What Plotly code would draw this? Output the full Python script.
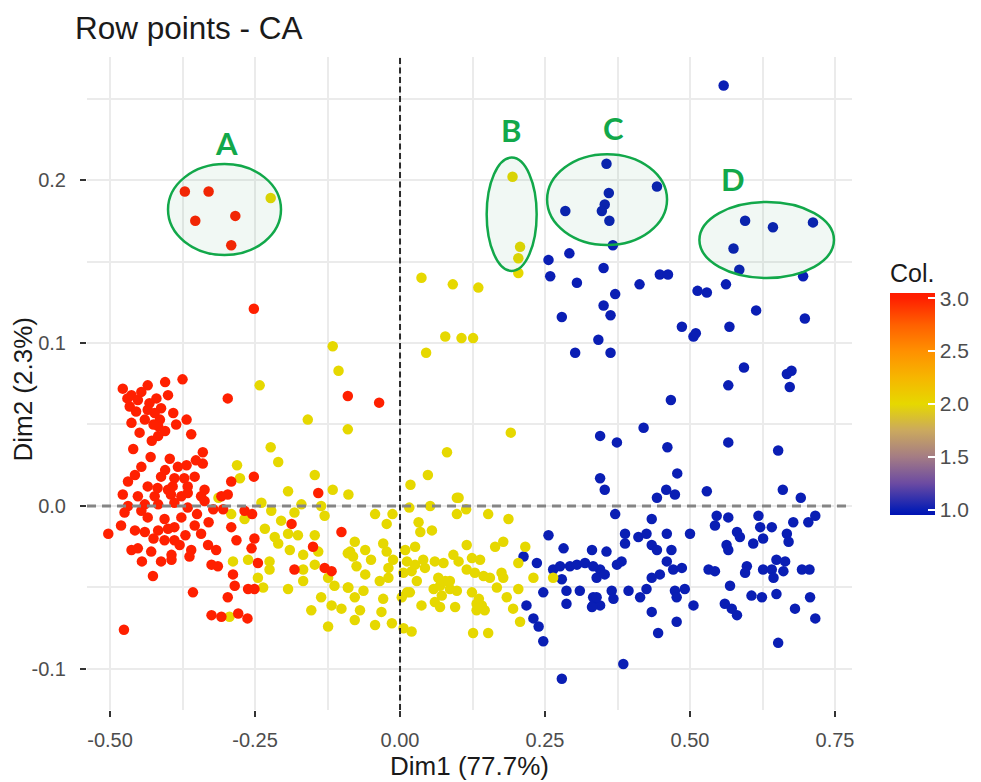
import plotly.graph_objects as go

# ---------------- data (Dim1, Dim2) ----------------
red_points = [
    (-0.371, 0.193), (-0.330, 0.193), (-0.353, 0.175), (-0.284, 0.178), (-0.291, 0.160),
    (-0.252, 0.121), (-0.090, 0.0675), (-0.375, 0.0777), (-0.297, 0.066), (-0.036, 0.0634),
    (-0.478, 0.072), (-0.463, 0.068), (-0.435, 0.074), (-0.405, 0.076), (-0.400, 0.068),
    (-0.452, 0.065), (-0.466, 0.061), (-0.432, 0.063), (-0.412, 0.060), (-0.423, 0.057),
    (-0.391, 0.057), (-0.414, 0.053), (-0.463, 0.051), (-0.417, 0.049), (-0.386, 0.050),
    (-0.368, 0.053), (-0.449, 0.045), (-0.417, 0.043), (-0.360, 0.044), (-0.435, 0.059),
    (-0.340, 0.033), (-0.397, 0.029), (-0.340, 0.026), (-0.252, 0.018), (-0.291, 0.015),
    (-0.141, 0.008), (-0.446, 0.024), (-0.457, 0.019), (-0.469, 0.015), (-0.412, 0.018),
    (-0.383, 0.024), (-0.368, 0.025), (-0.389, 0.017), (-0.354, 0.018), (-0.366, 0.012),
    (-0.435, 0.012), (-0.400, 0.010), (-0.337, 0.010), (-0.478, 0.007), (-0.423, 0.006),
    (-0.308, 0.006), (-0.377, 0.006), (-0.452, 0.006), (-0.395, 0.007), (-0.366, 0.008),
    (-0.343, 0.006), (-0.297, 0.007), (-0.469, 0.000), (-0.446, -0.003), (-0.417, 0.001),
    (-0.389, 0.002), (-0.366, -0.001), (-0.337, 0.003), (-0.435, -0.007), (-0.406, -0.008),
    (-0.377, -0.007), (-0.481, -0.012), (-0.503, -0.017), (-0.457, -0.015), (-0.417, -0.015),
    (-0.389, -0.013), (-0.354, -0.012), (-0.343, -0.017), (-0.406, -0.021), (-0.389, -0.021),
    (-0.463, -0.027), (-0.452, -0.026), (-0.429, -0.028), (-0.394, -0.030), (-0.360, -0.027),
    (-0.331, -0.024), (-0.317, -0.027), (-0.394, -0.033), (-0.363, -0.031), (-0.325, -0.036),
    (-0.314, -0.037), (-0.426, -0.043), (-0.268, -0.003), (-0.255, -0.005), (-0.291, -0.013),
    (-0.282, -0.021), (-0.251, -0.020), (-0.256, -0.026), (-0.245, -0.035), (-0.288, -0.042),
    (-0.285, -0.049), (-0.262, -0.051), (-0.251, -0.051), (-0.357, -0.053), (-0.297, -0.056),
    (-0.325, -0.067), (-0.308, -0.068), (-0.279, -0.066), (-0.263, -0.069), (-0.476, -0.076),
    (-0.187, -0.011), (-0.150, -0.025), (-0.182, -0.039), (-0.130, -0.038), (-0.118, -0.040),
    (-0.101, -0.016),
    (-0.420, 0.066), (-0.425, 0.050), (-0.440, 0.053), (-0.455, 0.058), (-0.470, 0.066),
    (-0.446, 0.070), (-0.428, 0.040), (-0.405, 0.046), (-0.405, 0.022), (-0.392, 0.012),
    (-0.372, 0.017), (-0.418, 0.011), (-0.440, 0.001), (-0.475, -0.004), (-0.440, -0.016),
    (-0.425, -0.020), (-0.400, -0.014), (-0.370, -0.018), (-0.350, -0.005), (-0.330, -0.010),
    (-0.322, -0.002), (-0.305, -0.002), (-0.352, 0.028), (-0.430, 0.030), (-0.460, 0.035),
    (-0.380, -0.024), (-0.445, -0.034), (-0.412, -0.034),
]

yellow_points = [
    (-0.223, 0.189), (0.194, 0.202), (0.207, 0.159), (0.204, 0.152), (0.204, 0.143),
    (0.037, 0.140), (0.091, 0.136), (0.135, 0.134), (0.078, 0.104), (0.106, 0.103),
    (0.126, 0.103), (0.045, 0.094), (-0.116, 0.098), (-0.106, 0.083), (-0.242, 0.074),
    (-0.159, 0.053), (-0.090, 0.047), (0.191, 0.045), (0.081, 0.033), (0.048, 0.019),
    (0.018, 0.013), (0.101, 0.005), (-0.281, 0.025), (-0.276, 0.017), (-0.223, 0.036),
    (-0.210, 0.027), (-0.147, 0.019), (-0.193, 0.009), (-0.116, 0.010), (-0.313, 0.005),
    (-0.291, -0.005), (-0.268, -0.008), (-0.239, 0.002), (-0.222, -0.003), (-0.205, -0.009),
    (-0.233, -0.014), (-0.216, -0.019), (-0.193, -0.017), (-0.176, -0.018), (-0.210, -0.023),
    (-0.190, -0.027), (-0.167, -0.030), (-0.147, -0.018), (-0.141, -0.028), (-0.167, -0.039),
    (-0.167, -0.046), (-0.193, -0.051), (-0.147, -0.036), (-0.124, -0.044), (-0.113, -0.049),
    (-0.136, -0.056), (-0.118, -0.061), (-0.101, -0.063), (-0.153, -0.064), (-0.124, -0.074),
    (-0.090, -0.029), (-0.090, -0.050), (-0.170, 0.001), (-0.136, 0.000), (-0.130, -0.006),
    (-0.182, -0.004), (-0.288, -0.034), (-0.262, -0.033), (-0.225, -0.034), (-0.225, -0.039),
    (-0.245, -0.044), (-0.236, -0.050), (-0.294, -0.068), (-0.089, 0.007), (-0.043, -0.005),
    (-0.013, -0.005), (0.016, -0.001), (0.052, 0.000), (0.098, 0.005), (0.098, -0.005),
    (0.114, -0.002), (0.152, -0.005), (0.187, -0.008), (-0.023, -0.011), (0.032, -0.010),
    (0.035, -0.016), (0.055, -0.015), (-0.078, -0.022), (-0.060, -0.027), (-0.029, -0.023),
    (-0.023, -0.028), (-0.086, -0.028), (0.009, -0.027), (0.026, -0.025), (0.115, -0.024),
    (0.164, -0.025), (0.178, -0.022), (0.216, -0.025), (-0.081, -0.031), (0.012, -0.034),
    (0.026, -0.036), (0.043, -0.038), (0.060, -0.034), (0.075, -0.035), (0.101, -0.034),
    (0.124, -0.032), (0.138, -0.033), (0.204, -0.035), (-0.020, -0.038), (-0.075, -0.037),
    (-0.060, -0.042), (-0.035, -0.046), (-0.020, -0.044), (0.006, -0.041), (0.029, -0.046),
    (0.078, -0.046), (0.115, -0.039), (0.129, -0.041), (0.144, -0.043), (0.155, -0.044),
    (0.175, -0.041), (0.178, -0.044), (0.230, -0.044), (-0.089, -0.050), (-0.063, -0.052),
    (0.012, -0.053), (0.058, -0.051), (0.069, -0.049), (0.086, -0.051), (0.098, -0.052),
    (0.124, -0.053), (0.167, -0.050), (0.204, -0.051), (-0.078, -0.056), (-0.029, -0.057),
    (0.003, -0.056), (0.017, -0.053), (0.037, -0.061), (0.060, -0.059), (0.069, -0.062),
    (0.095, -0.062), (0.132, -0.060), (0.141, -0.061), (0.132, -0.064), (0.184, -0.056),
    (0.195, -0.063), (-0.069, -0.064), (-0.032, -0.065), (-0.078, -0.070), (-0.043, -0.073),
    (-0.014, -0.072), (0.006, -0.075), (0.020, -0.077), (0.126, -0.078), (0.152, -0.078),
    (0.207, -0.071), (0.264, -0.044),
    (0.066, -0.044), (0.086, -0.046), (0.072, -0.055), (0.136, -0.057), (0.146, -0.064),
    (0.040, -0.033), (0.020, -0.040), (-0.012, -0.033), (-0.050, -0.033), (0.092, -0.030),
]

blue_points = [
    (0.356, 0.210), (0.360, 0.192), (0.353, 0.185), (0.348, 0.181), (0.361, 0.175),
    (0.443, 0.196), (0.285, 0.181), (0.595, 0.175), (0.643, 0.171), (0.712, 0.174),
    (0.575, 0.158), (0.585, 0.145), (0.695, 0.141), (0.558, 0.258), (0.292, 0.155),
    (0.256, 0.151), (0.259, 0.141), (0.367, 0.160), (0.351, 0.146), (0.448, 0.142),
    (0.462, 0.142), (0.305, 0.137), (0.279, 0.116), (0.302, 0.094), (0.342, 0.102),
    (0.413, 0.136), (0.371, 0.130), (0.351, 0.123), (0.363, 0.117), (0.363, 0.094),
    (0.513, 0.132), (0.529, 0.131), (0.562, 0.136), (0.614, 0.120), (0.698, 0.115),
    (0.486, 0.110), (0.506, 0.104), (0.510, 0.106), (0.568, 0.110), (0.593, 0.085),
    (0.667, 0.081), (0.675, 0.083), (0.672, 0.073), (0.566, 0.074), (0.467, 0.065),
    (0.420, 0.048), (0.345, 0.043), (0.374, 0.039), (0.461, 0.036), (0.566, 0.039),
    (0.652, 0.034), (0.345, 0.017), (0.353, 0.010), (0.478, 0.020), (0.459, 0.010),
    (0.474, 0.007), (0.529, 0.009), (0.443, 0.005), (0.660, 0.010), (0.691, 0.005),
    (0.371, -0.005), (0.434, -0.008), (0.546, -0.006), (0.566, -0.007), (0.618, -0.006),
    (0.678, -0.010), (0.704, -0.010), (0.716, -0.006), (0.543, -0.012), (0.581, -0.016),
    (0.586, -0.019), (0.621, -0.013), (0.641, -0.013), (0.626, -0.020), (0.667, -0.017),
    (0.670, -0.022), (0.388, -0.017), (0.388, -0.023), (0.411, -0.019), (0.425, -0.017),
    (0.434, -0.024), (0.443, -0.027), (0.460, -0.017), (0.468, -0.027), (0.500, -0.017),
    (0.563, -0.024), (0.566, -0.027), (0.609, -0.023), (0.356, -0.028), (0.345, -0.039),
    (0.339, -0.044), (0.353, -0.042), (0.374, -0.036), (0.382, -0.034), (0.460, -0.034),
    (0.471, -0.039), (0.486, -0.038), (0.448, -0.042), (0.434, -0.044), (0.532, -0.039),
    (0.543, -0.040), (0.598, -0.037), (0.595, -0.041), (0.626, -0.039), (0.641, -0.039),
    (0.649, -0.033), (0.664, -0.034), (0.661, -0.040), (0.644, -0.044), (0.693, -0.039),
    (0.706, -0.039), (0.365, -0.052), (0.368, -0.057), (0.394, -0.052), (0.414, -0.056),
    (0.425, -0.051), (0.474, -0.052), (0.477, -0.056), (0.491, -0.051), (0.506, -0.061),
    (0.569, -0.049), (0.560, -0.060), (0.572, -0.063), (0.581, -0.067), (0.606, -0.055),
    (0.624, -0.056), (0.649, -0.054), (0.681, -0.063), (0.707, -0.056), (0.716, -0.069),
    (0.434, -0.065), (0.477, -0.071), (0.445, -0.078), (0.652, -0.084), (0.385, -0.097),
    (0.333, -0.061), (0.345, -0.061), (0.333, -0.056), (0.256, -0.018), (0.213, -0.031),
    (0.236, -0.035), (0.282, -0.026), (0.264, -0.039), (0.276, -0.037), (0.293, -0.037),
    (0.305, -0.036), (0.319, -0.035), (0.333, -0.037), (0.331, -0.027), (0.279, -0.045),
    (0.247, -0.053), (0.287, -0.052), (0.310, -0.052), (0.287, -0.060), (0.218, -0.061),
    (0.230, -0.069), (0.239, -0.074), (0.247, -0.083), (0.279, -0.106), (0.331, -0.062),
    (0.339, -0.056),
]

group_points = [blue_points, yellow_points, red_points]
group_col = [1.0, 2.0, 3.0]

# highlighted groups: label, center x, center y, half-width, half-height, label x, label y
group_labels = ["A", "B", "C", "D"]
ellipse_cx = [-0.3026, 0.1925, 0.357, 0.6322]
ellipse_cy = [0.1819, 0.179, 0.188, 0.1632]
ellipse_rx = [0.0974, 0.0431, 0.1034, 0.116]
ellipse_ry = [0.0279, 0.0348, 0.0279, 0.0233]
label_x = [-0.2995, 0.1915, 0.3675, 0.5745]
label_y = [0.2225, 0.2305, 0.2322, 0.2005]

x_ticks = [-0.50, -0.25, 0.00, 0.25, 0.50, 0.75]
y_ticks = [-0.1, 0.0, 0.1, 0.2]
cbar_ticks = [1.0, 1.5, 2.0, 2.5, 3.0]
cbar_min, cbar_max = 0.95, 3.05

# ---------------- build ----------------
xs, ys, cs = [], [], []
for pts, c in zip(group_points, group_col):
    for x, y in pts:
        xs.append(x)
        ys.append(y)
        cs.append(c)

scale_vals = [0.95, 1.0, 1.25, 1.5, 1.75, 2.0, 2.25, 2.5, 2.75, 3.0, 3.05]
scale_cols = ["#0012B4", "#0A1EB4", "#6C4BA2", "#A47C84", "#CBA95E", "#E6D800",
              "#F6B600", "#FF9000", "#FF6000", "#FF2000", "#FF1C00"]
colorscale = [[(v - cbar_min) / (cbar_max - cbar_min), c] for v, c in zip(scale_vals, scale_cols)]

W, H = 981, 782
ml, mr, mt, mb = 87, 129, 57, 72
pw, ph = W - ml - mr, H - mt - mb

bar_left_px, bar_thick, bar_top_px, bar_len = 890, 45, 296, 219
cbar_title_px = 36   # room taken by the colour-bar title inside "len"

fig = go.Figure()
fig.add_trace(go.Scatter(
    x=xs, y=ys, mode="markers",
    marker=dict(size=10.5, color=cs, cmin=cbar_min, cmax=cbar_max, colorscale=colorscale,
                line=dict(width=0),
                colorbar=dict(
                    title=dict(text="Col.", side="top", font=dict(size=25, color="#1a1a1a")),
                    x=(bar_left_px - ml) / pw, xanchor="left", xpad=0,
                    y=(H - mb - (bar_top_px + bar_len)) / ph, yanchor="bottom", ypad=0,
                    len=bar_len + cbar_title_px, lenmode="pixels",
                    thickness=bar_thick, outlinewidth=0,
                    tickvals=cbar_ticks, ticktext=[f"{v:.1f}" for v in cbar_ticks],
                    ticks="inside", ticklen=7, tickwidth=2, tickcolor="white",
                    tickfont=dict(size=21, color="#4D4D4D"),
                )),
    hoverinfo="x+y", showlegend=False,
))

shapes = []
# dashed reference lines
shapes.append(dict(type="line", xref="x", yref="paper", x0=0, x1=0, y0=0, y1=1,
                   line=dict(color="#2b2b2b", width=2, dash="6px,3.5px"), layer="above"))
shapes.append(dict(type="line", xref="paper", yref="y", x0=0, x1=1, y0=0, y1=0,
                   line=dict(color="#858585", width=3, dash="9px,6px"), layer="above"))
# highlight ellipses
for cx, cy, rx, ry in zip(ellipse_cx, ellipse_cy, ellipse_rx, ellipse_ry):
    shapes.append(dict(type="circle", xref="x", yref="y", x0=cx - rx, x1=cx + rx,
                       y0=cy - ry, y1=cy + ry, line=dict(color="#12A84A", width=2.5),
                       fillcolor="rgba(20,130,60,0.06)", layer="above"))
# white tick marks on the left edge of the colour bar
for v in cbar_ticks:
    py = bar_top_px + bar_len - (v - cbar_min) / (cbar_max - cbar_min) * bar_len
    yp = (H - mb - py) / ph
    shapes.append(dict(type="line", xref="paper", yref="paper",
                       x0=(bar_left_px - ml) / pw, x1=(bar_left_px + 7 - ml) / pw,
                       y0=yp, y1=yp, line=dict(color="white", width=2), layer="above"))

annotations = []
for t, lx, ly in zip(group_labels, label_x, label_y):
    annotations.append(dict(x=lx, y=ly, xref="x", yref="y", text=t, showarrow=False,
                            font=dict(family="Lato, Open Sans, sans-serif", size=31,
                                      color="#12A84A", weight="bold")))
annotations.append(dict(x=0.5, y=-0.086, xref="paper", yref="paper", text="Dim1 (77.7%)",
                        showarrow=False, yanchor="middle",
                        font=dict(size=26, color="#1a1a1a")))
annotations.append(dict(x=-0.083, y=0.49, xref="paper", yref="paper", text="Dim2 (2.3%)",
                        showarrow=False, textangle=-90, xanchor="center",
                        font=dict(size=26, color="#1a1a1a")))

grid = "#EBEBEB"
fig.update_layout(
    width=W, height=H,
    margin=dict(l=ml, r=mr, t=mt, b=mb, autoexpand=False),
    paper_bgcolor="white", plot_bgcolor="white",
    font=dict(family="Liberation Sans, Arial, sans-serif", color="#1a1a1a"),
    title=dict(text="Row points - CA", x=75 / W, xanchor="left", xref="container",
               y=1 - 28 / H, yanchor="middle", yref="container",
               font=dict(size=31.5, color="#1a1a1a")),
    xaxis=dict(range=[-0.5397, 0.7793], tickvals=x_ticks,
               ticktext=[f"{v:.2f}" for v in x_ticks],
               showgrid=True, gridcolor=grid, gridwidth=2, zeroline=False,
               minor=dict(dtick=0.125, tick0=0, showgrid=True, gridcolor=grid, gridwidth=1.6),
               ticks="outside", ticklen=6, tickwidth=1.5, tickcolor="#333333",
               ticklabelstandoff=6,
               tickfont=dict(size=20, color="#4D4D4D"), showline=False),
    yaxis=dict(range=[-0.1252, 0.2755], tickvals=y_ticks,
               ticktext=[f"{v:.1f}" for v in y_ticks],
               showgrid=True, gridcolor=grid, gridwidth=2, zeroline=False,
               minor=dict(dtick=0.05, tick0=0, showgrid=True, gridcolor=grid, gridwidth=1.6),
               ticks="outside", ticklen=6, tickwidth=1.5, tickcolor="#333333",
               ticklabelstandoff=10,
               tickfont=dict(size=20, color="#4D4D4D"), showline=False),
    shapes=shapes, annotations=annotations,
)

fig.write_html("out.html", config={"displayModeBar": False},
               post_script="document.body.style.margin='0';document.body.style.overflow='hidden';")
